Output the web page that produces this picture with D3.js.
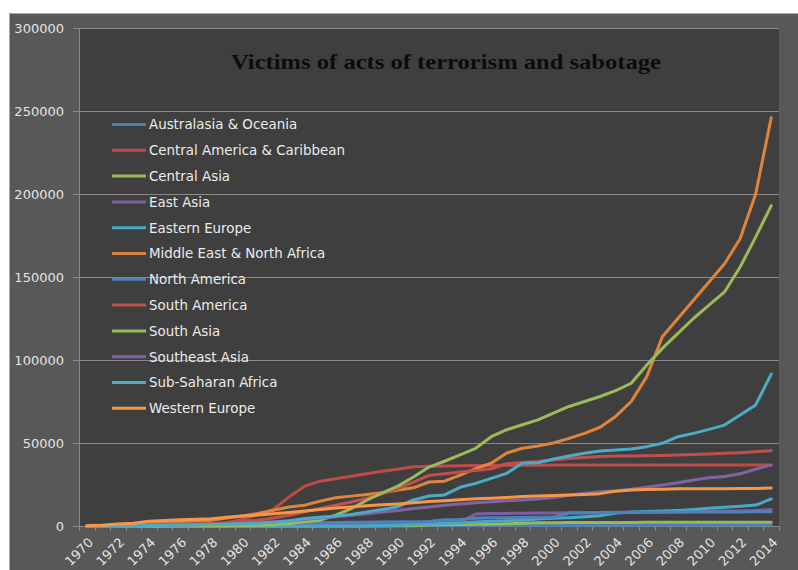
<!DOCTYPE html>
<html>
<head>
<meta charset="utf-8">
<script src="https://cdn.jsdelivr.net/npm/d3@7"></script>
<style>
  body { margin: 0; background: #ffffff; }
</style>
</head>
<body>
<div id="chart"></div>
<script>
// Years on the category axis
const years = [1970, 1971, 1972, 1973, 1974, 1975, 1976, 1977, 1978, 1979,
    1980, 1981, 1982, 1983, 1984, 1985, 1986, 1987, 1988, 1989,
    1990, 1991, 1992, 1993, 1994, 1995, 1996, 1997, 1998, 1999,
    2000, 2001, 2002, 2003, 2004, 2005, 2006, 2007, 2008, 2009,
    2010, 2011, 2012, 2013, 2014];

// Cumulative victims per region
const australasia = [0, 0, 10, 20, 30, 40, 50, 60, 70, 80,
    100, 120, 140, 160, 180, 200, 220, 240, 260, 280,
    300, 320, 340, 360, 380, 400, 420, 440, 460, 480,
    500, 510, 600, 610, 620, 630, 640, 650, 660, 670,
    680, 690, 700, 710, 720];
const centralAmerica = [0, 50, 100, 150, 200, 300, 400, 600, 1000, 2000,
    4000, 6800, 10000, 17500, 24000, 27000, 28500, 30000, 31500, 33000,
    34200, 35700, 36000, 36200, 36300, 36400, 36500, 36600, 36600, 36600,
    36700, 36700, 36700, 36700, 36700, 36700, 36700, 36700, 36700, 36700,
    36700, 36700, 36700, 36700, 36700];
const centralAsia = [0, 0, 0, 0, 0, 0, 0, 0, 0, 0,
    0, 0, 0, 0, 0, 0, 0, 0, 0, 0,
    100, 200, 600, 800, 900, 1000, 1100, 1300, 1600, 1900,
    2000, 2050, 2100, 2100, 2150, 2150, 2200, 2200, 2200, 2250,
    2250, 2250, 2300, 2300, 2300];
const eastAsia = [0, 20, 50, 100, 200, 300, 350, 400, 450, 500,
    600, 700, 800, 900, 1000, 1100, 1200, 1300, 1400, 1500,
    1600, 1800, 2000, 2200, 2400, 7200, 7500, 7600, 7700, 7800,
    7900, 8000, 8100, 8200, 8300, 8400, 8500, 8600, 8700, 8800,
    8900, 9000, 9100, 9400, 10000];
const easternEurope = [0, 0, 0, 10, 10, 20, 20, 30, 30, 40,
    40, 50, 50, 50, 60, 60, 70, 70, 80, 300,
    500, 800, 1200, 1500, 1800, 2400, 2900, 3200, 3500, 4200,
    4600, 5000, 5600, 6200, 7800, 8300, 8700, 9000, 9400, 10000,
    10700, 11300, 11900, 12600, 16300];
const middleEast = [100, 200, 500, 800, 1500, 2000, 2500, 3000, 3500, 4800,
    6000, 7500, 9500, 11500, 12500, 15000, 17000, 18000, 19000, 20000,
    21700, 23000, 26500, 27000, 30700, 34500, 37800, 44000, 46800, 48200,
    50000, 52800, 55800, 59500, 66000, 75000, 90000, 114000, 125000, 136000,
    147000, 158000, 173000, 200000, 246000];
const northAmerica = [300, 500, 600, 700, 800, 1000, 1100, 1200, 1300, 1400,
    1500, 1600, 1700, 1800, 1900, 2000, 2100, 2200, 2300, 2400,
    2500, 2600, 2700, 3800, 3900, 4700, 4900, 5000, 5100, 5200,
    5300, 7800, 7900, 8000, 8100, 8200, 8250, 8300, 8350, 8400,
    8450, 8500, 8500, 8600, 8600];
const southAmerica = [0, 100, 200, 300, 500, 700, 900, 1200, 1500, 2000,
    2700, 3500, 4800, 6500, 8500, 10500, 12500, 14500, 16800, 19500,
    22500, 26500, 30500, 31500, 32500, 33500, 34500, 37500, 38200, 38800,
    39700, 40600, 41300, 41800, 42100, 42200, 42300, 42500, 42800, 43100,
    43400, 43800, 44200, 44800, 45400];
const southAsia = [0, 0, 0, 0, 50, 50, 100, 100, 150, 200,
    300, 500, 800, 1500, 2500, 3500, 6500, 10500, 15500, 20000,
    24000, 29500, 35500, 39000, 42800, 46800, 53800, 58000, 61000, 63900,
    68000, 72000, 75000, 78000, 81500, 86000, 97000, 107000, 116000, 125000,
    133000, 141000, 156000, 174000, 193000];
const southeastAsia = [0, 50, 100, 200, 300, 400, 600, 800, 1000, 1200,
    1500, 2000, 2600, 3200, 4000, 4800, 5600, 6400, 7400, 8400,
    9300, 10500, 11500, 12500, 13300, 14000, 14600, 15200, 15700, 16200,
    17200, 18500, 19700, 20700, 21200, 22100, 23300, 24700, 26100, 27700,
    29000, 29800, 31500, 34200, 36800];
const subSaharan = [0, 50, 100, 200, 300, 400, 600, 800, 900, 1100,
    1300, 1700, 2200, 3000, 4500, 5200, 6000, 7000, 8500, 10000,
    11600, 15700, 18100, 18700, 23300, 25700, 28700, 31700, 37800, 38100,
    40400, 42200, 43800, 45200, 45800, 46400, 47800, 49800, 53800, 55800,
    58200, 60800, 66900, 72900, 91500];
const westernEurope = [200, 500, 1200, 1700, 2900, 3300, 3700, 4100, 4400, 5200,
    6000, 6600, 7400, 8200, 9000, 10000, 10800, 11500, 12200, 12800,
    13300, 14000, 14700, 15200, 15800, 16400, 16700, 17200, 17700, 18000,
    18300, 18700, 19000, 19500, 21000, 21700, 22000, 22200, 22400, 22400,
    22400, 22500, 22600, 22600, 22900];

const regionNames = ["Australasia & Oceania", "Central America & Caribbean", "Central Asia",
    "East Asia", "Eastern Europe", "Middle East & North Africa", "North America",
    "South America", "South Asia", "Southeast Asia", "Sub-Saharan Africa", "Western Europe"];
const regionValues = [australasia, centralAmerica, centralAsia, eastAsia, easternEurope,
    middleEast, northAmerica, southAmerica, southAsia, southeastAsia, subSaharan, westernEurope];
const yTicks = [0, 50000, 100000, 150000, 200000, 250000, 300000];

// Excel-like palette: first six darker, second six normal
const colors = ['#4a7ebb', '#be4b48', '#98b954', '#7d60a0', '#46aac5', '#e0843c',
    '#4f81bd', '#c0504d', '#9bbb59', '#8064a2', '#4bacc6', '#f79646'];

const W = 798, H = 570;
const plot = {left: 79, right: 779, top: 28, bottom: 526};

const svg = d3.select("#chart")
    .append("svg")
        .attr("width", W)
        .attr("height", H);

// outer chart area with thin blue border
svg.append("rect")
    .attr("x", 9.5).attr("y", 13.5)
    .attr("width", W).attr("height", H)
    .attr("fill", "#585858")
    .attr("stroke", "#8db0dc")
    .attr("stroke-width", 1);

// plot area
svg.append("rect")
    .attr("x", plot.left).attr("y", plot.top)
    .attr("width", plot.right - plot.left).attr("height", plot.bottom - plot.top)
    .attr("fill", "#3f3f3f");

const x = d3.scaleBand()
    .domain(years)
    .range([plot.left, plot.right]);

const y = d3.scaleLinear()
    .domain([0, 300000])
    .range([plot.bottom, plot.top]);

const xc = d => x(d) + x.bandwidth() / 2;

// gridlines
svg.append("g")
    .selectAll("line")
    .data(yTicks)
    .join("line")
        .attr("x1", plot.left - 6)
        .attr("x2", plot.right)
        .attr("y1", d => Math.round(y(d)) + 0.5)
        .attr("y2", d => Math.round(y(d)) + 0.5)
        .attr("stroke", "#8a8a8a")
        .attr("stroke-width", 1);

// y axis line
svg.append("line")
    .attr("x1", plot.left + 0.5).attr("x2", plot.left + 0.5)
    .attr("y1", plot.top).attr("y2", plot.bottom)
    .attr("stroke", "#8a8a8a");

// y tick labels
svg.append("g")
    .selectAll("text")
    .data(yTicks)
    .join("text")
        .attr("x", 64)
        .attr("y", d => y(d))
        .attr("dy", "0.36em")
        .attr("text-anchor", "end")
        .style("font", "13px 'DejaVu Sans', Verdana, sans-serif")
        .style("fill", "#e4e4e4")
        .text(d => d);

// x tick marks at category boundaries
svg.append("g")
    .selectAll("line")
    .data(years.concat([null]))
    .join("line")
        .attr("x1", d => d === null ? plot.right + 0.5 : Math.round(x(d)) + 0.5)
        .attr("x2", d => d === null ? plot.right + 0.5 : Math.round(x(d)) + 0.5)
        .attr("y1", plot.bottom)
        .attr("y2", plot.bottom + 5)
        .attr("stroke", "#8a8a8a");

// x labels, every second year
svg.append("g")
    .selectAll("text")
    .data(years.filter((d, i) => i % 2 === 0))
    .join("text")
        .attr("transform", d => `translate(${xc(d) + 4},${plot.bottom + 14}) rotate(-45)`)
        .attr("text-anchor", "end")
        .attr("dy", "0.35em")
        .style("font", "13px 'DejaVu Sans', Verdana, sans-serif")
        .style("fill", "#e4e4e4")
        .text(d => d);

// lines
const line = d3.line()
    .x((d, i) => xc(years[i]))
    .y(d => y(d));

regionValues.forEach(function(vals, i) {
    svg.append("path")
        .datum(vals)
        .attr("fill", "none")
        .attr("stroke", colors[i])
        .attr("stroke-width", 3)
        .attr("stroke-linejoin", "round")
        .attr("stroke-linecap", "round")
        .attr("d", line);
});

// title
svg.append("text")
    .attr("x", 446)
    .attr("y", 69)
    .attr("text-anchor", "middle")
    .attr("textLength", 430)
    .attr("lengthAdjust", "spacingAndGlyphs")
    .style("font", "bold 22px 'Liberation Serif', 'Times New Roman', serif")
    .style("fill", "#0c0c0c")
    .text("Victims of acts of terrorism and sabotage");

// legend
const legend = svg.append("g");
regionNames.forEach(function(name, i) {
    const ly = 124.5 + i * 25.8;
    legend.append("line")
        .attr("x1", 112).attr("x2", 146)
        .attr("y1", ly).attr("y2", ly)
        .attr("stroke", colors[i])
        .attr("stroke-width", 3);
    legend.append("text")
        .attr("x", 149)
        .attr("y", ly)
        .attr("dy", "0.36em")
        .style("font", "13.4px 'DejaVu Sans', Verdana, sans-serif")
        .style("fill", "#ececec")
        .text(name);
});
</script>
</body>
</html>
